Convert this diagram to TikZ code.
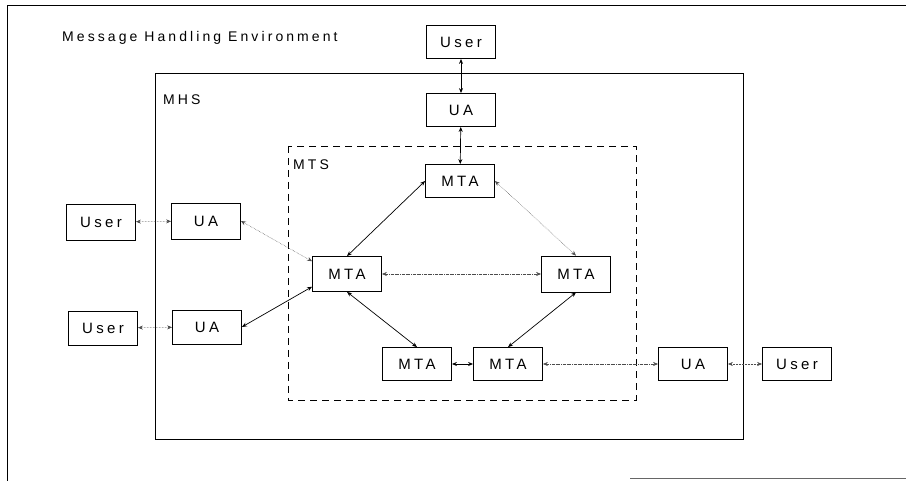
\documentclass[tikz,border=0pt]{standalone}
\usepackage{fontspec}
\setmainfont{Liberation Sans}[LetterSpace=22]
\usetikzlibrary{arrows.meta}
\begin{document}
\begin{tikzpicture}[x=1pt,y=-1pt,
  box/.style={draw,line width=0.8pt,minimum width=69pt,minimum height=33pt,inner sep=0pt,font=\fontsize{15}{17}\selectfont},
  lbl/.style={anchor=west,inner sep=0pt,font=\fontsize{14}{16}\selectfont},
  link/.style={{Stealth[length=5pt,width=4pt]}-{Stealth[length=5pt,width=4pt]},line width=0.7pt},
  faint/.style={link,line width=0.5pt,densely dash dot,black!70},
  dots/.style={link,line width=0.5pt,densely dotted,black!70}]
\useasboundingbox (0,0) rectangle (906,481);
% environment frame
\draw[line width=0.8pt] (906,5) -- (7,5) -- (7,481);
\draw[line width=0.5pt,black!60] (630,478) -- (906,478);
\node[lbl] (title) at (62,38) {Message Handling Environment};
% MHS
\draw[line width=0.9pt] (155,73) rectangle (743,439);
\node[lbl] (mhs) at (163,100) {MHS};
% MTS
\draw[line width=0.9pt,dash pattern=on 7pt off 5pt] (288,146) rectangle (636,400);
\node[lbl] (mts) at (293,165) {MTS};
% nodes
\node[box] (userT) at (461,42) {User};
\node[box] (uaT) at (461,110) {UA};
\node[box] (mtaT) at (460,181) {MTA};
\node[box,minimum height=35pt] (mtaL) at (347,274) {MTA};
\node[box,minimum height=36pt] (mtaR) at (576,274) {MTA};
\node[box] (mtaBL) at (417,364) {MTA};
\node[box] (mtaBR) at (508,364) {MTA};
\node[box] (uaR) at (693,364) {UA};
\node[box] (userR) at (797,364) {User};
\node[box,minimum height=36pt] (userL1) at (101,222) {User};
\node[box,minimum height=36pt] (uaL1) at (206,221) {UA};
\node[box,minimum height=34pt] (userL2) at (103,328) {User};
\node[box,minimum height=34pt] (uaL2) at (207,327) {UA};
% connectors
\draw[link] (userT) -- (uaT);
\draw[link] (uaT) -- (mtaT);
\draw[link] (mtaL.north) -- (mtaT.west);
\draw[dots] (mtaT.east) -- (mtaR.north);
\draw[faint] (mtaL.east) -- (mtaR.west);
\draw[link] (mtaL.south) -- (mtaBL.north);
\draw[link] (mtaR.south) -- (mtaBR.north);
\draw[link] (mtaBL) -- (mtaBR);
\draw[faint] (mtaBR) -- (uaR);
\draw[dots] (uaR) -- (userR);
\draw[dots] (userL1) -- (uaL1);
\draw[dots] (userL2) -- (uaL2);
\draw[dots] (uaL1.east) -- (mtaL.160);
\draw[link] (uaL2.east) -- (mtaL.200);
\end{tikzpicture}
\end{document}
